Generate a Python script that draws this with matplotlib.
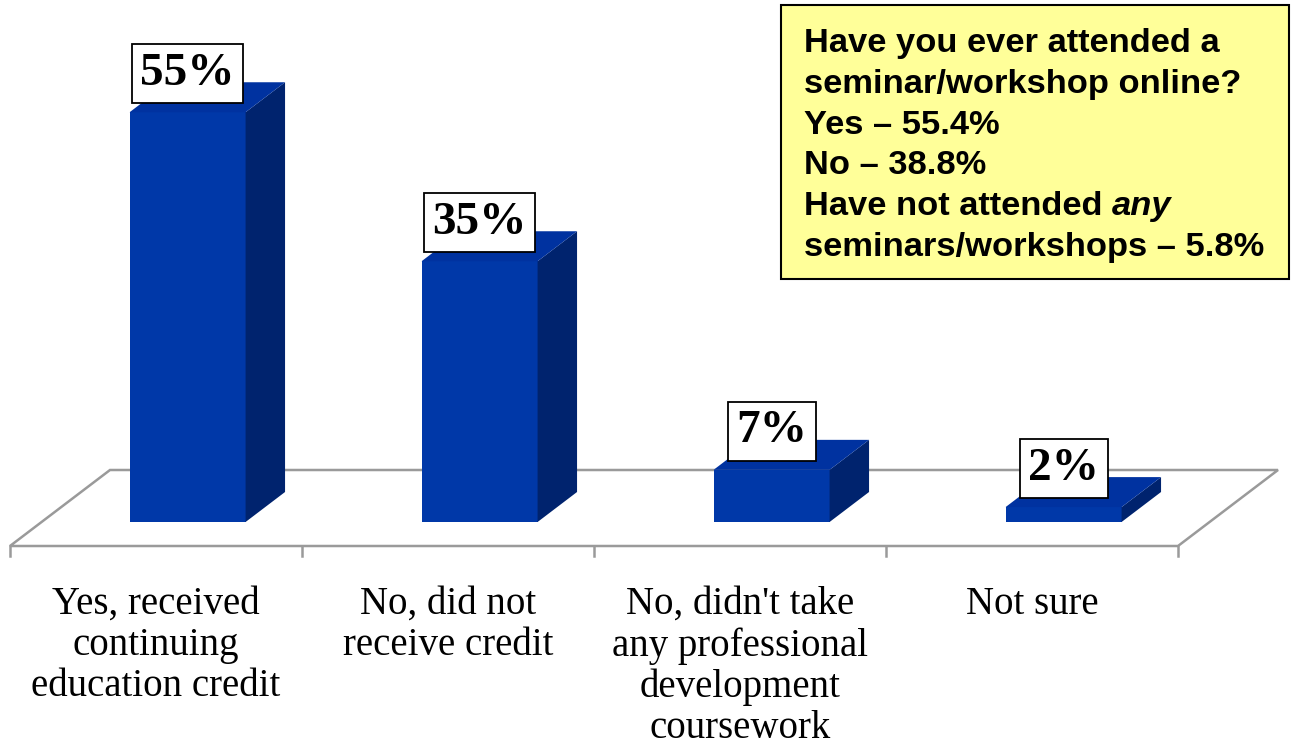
import matplotlib
matplotlib.use("Agg")
import matplotlib.pyplot as plt
from matplotlib.patches import Polygon, Rectangle
from matplotlib.text import Annotation

# --- data ---
categories = [
    "Yes, received\ncontinuing\neducation credit",
    "No, did not\nreceive credit",
    "No, didn't take\nany professional\ndevelopment\ncoursework",
    "Not sure",
]
values = [55, 35, 7, 2]
value_labels = ["55%", "35%", "7%", "2%"]
note_lines = [
    "Have you ever attended a",
    "seminar/workshop online?",
    "Yes \u2013 55.4%",
    "No \u2013 38.8%",
    "Have not attended",
    "seminars/workshops \u2013 5.8%",
]
note_italic = "any"

# --- style / geometry ---
W, H = 1291, 746
FRONT = "#0038A8"
TOP = "#0032A0"
SIDE = "#00236E"
FLOOR_EDGE = "#9a9a9a"

px_per_cat = 292.0
px_per_pct = 7.45
DX = 100 / px_per_cat      # depth offset per unit depth (x, in categories)
DY = 76 / px_per_pct       # depth offset per unit depth (y, in percent)
d0, d1 = 24 / 76, 54 / 76  # bar front / back depth
hw = 58 / px_per_cat       # bar half width

fig = plt.figure(figsize=(W / 100, H / 100), dpi=100)
ax = fig.add_axes([0, 0, 1, 1])
ax.set_xlim(-156 / px_per_cat, (W - 156) / px_per_cat)
ax.set_ylim(-(H - 546) / px_per_pct, 546 / px_per_pct)
ax.axis("off")

n = len(values)
# floor
floor = Polygon([(-0.5, 0), (n - 0.5, 0), (n - 0.5 + DX, DY), (-0.5 + DX, DY)],
                closed=True, facecolor="white", edgecolor=FLOOR_EDGE, lw=1.8, zorder=1)
ax.add_patch(floor)
tick_len = 10 / px_per_pct
for k in range(n + 1):
    ax.plot([k - 0.5, k - 0.5], [0, -tick_len], color=FLOOR_EDGE, lw=1.8, zorder=1)

# bars
dd = d1 - d0
for i, v in enumerate(values):
    cx = i + d0 * DX
    xl, xr = cx - hw, cx + hw
    yb = d0 * DY
    yt = yb + v
    ax.add_patch(Rectangle((xl, yb), xr - xl, v, facecolor=FRONT, edgecolor="none", zorder=3))
    ax.add_patch(Polygon([(xr, yb), (xr + dd * DX, yb + dd * DY), (xr + dd * DX, yt + dd * DY), (xr, yt)],
                         closed=True, facecolor=SIDE, edgecolor="none", zorder=3))
    ax.add_patch(Polygon([(xl, yt), (xr, yt), (xr + dd * DX, yt + dd * DY), (xl + dd * DX, yt + dd * DY)],
                         closed=True, facecolor=TOP, edgecolor="none", zorder=3))
    ax.annotate(value_labels[i], xy=(cx, yt), xytext=(0, 12.5), textcoords="offset points",
                ha="center", va="bottom", fontsize=34, fontweight="bold",
                family="Liberation Serif", zorder=5,
                bbox=dict(boxstyle="square,pad=0.18", facecolor="white", edgecolor="black", lw=1.3))

# category labels
for i, c in enumerate(categories):
    ax.text(i, -(586 - 546) / px_per_pct, c, ha="center", va="top", fontsize=28,
            family="Liberation Serif", linespacing=1.14)

# note box
fig.patches.append(Rectangle((781 / W, 1 - 279 / H), 508 / W, 274 / H, transform=fig.transFigure,
                             facecolor="#FFFF99", edgecolor="black", lw=1.5, zorder=4))
baselines = [52, 93, 134, 174, 215, 256]
note_font = dict(fontsize=24.8, fontweight="bold", family="Liberation Sans")
anchor = None
for line, b in zip(note_lines, baselines):
    t = fig.text(804 / W, 1 - b / H, line, ha="left", va="baseline", zorder=6, **note_font)
    if line.startswith("Have not"):
        anchor = t
it = Annotation(note_italic, xy=(1, 0), xycoords=anchor, xytext=(7, 0), textcoords="offset points",
                ha="left", va="bottom", fontstyle="italic", zorder=7, **note_font)
fig.add_artist(it)

fig.savefig("out.png", dpi=100)
